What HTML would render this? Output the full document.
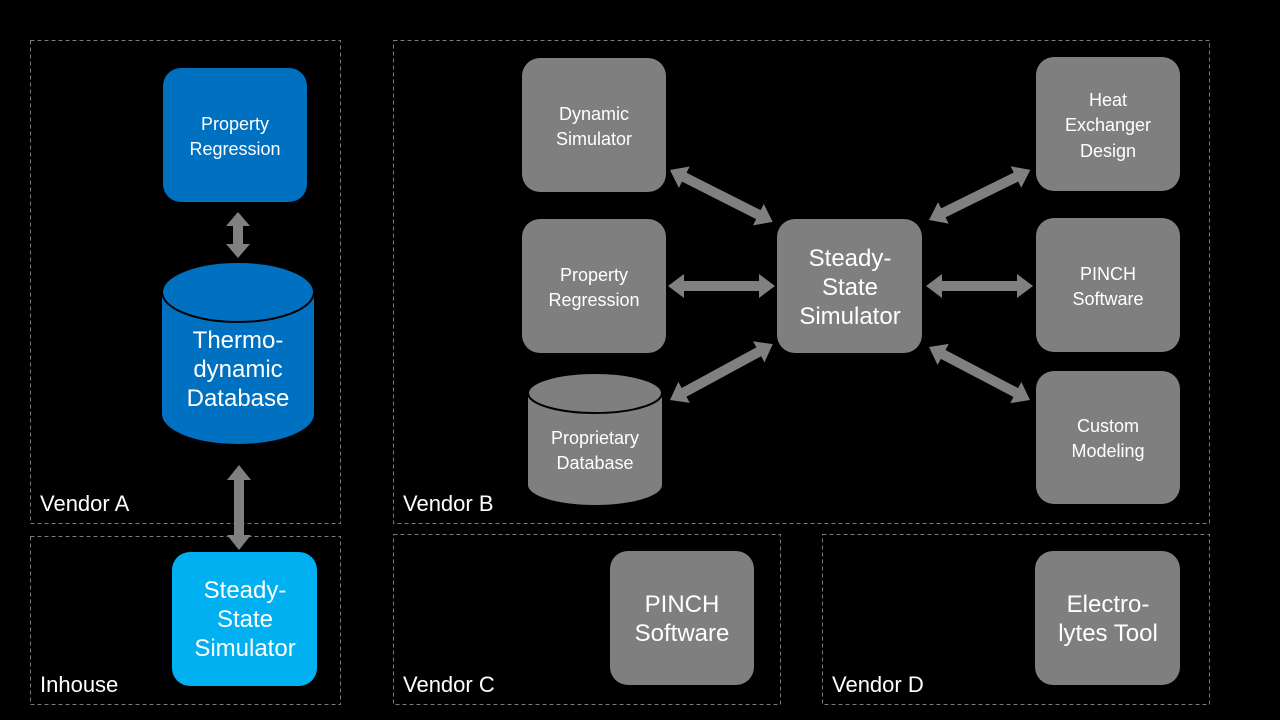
<!DOCTYPE html>
<html><head><meta charset="utf-8"><style>
html,body{margin:0;padding:0;background:#000;}
svg{display:block}
text{font-family:"Liberation Sans",sans-serif;fill:#fff;text-anchor:middle}
.s{font-size:18px}
.l{font-size:24px}
.v{font-size:22px;text-anchor:start}
</style></head><body>
<svg width="1280" height="720" viewBox="0 0 1280 720">
<rect width="1280" height="720" fill="#000"/>
<g fill="none" stroke="#7a7a7a" stroke-width="1" stroke-dasharray="4,3">
<rect x="30.5" y="40.5" width="310" height="483"/>
<rect x="30.5" y="536.5" width="310" height="168"/>
<rect x="393.5" y="40.5" width="816" height="483"/>
<rect x="393.5" y="534.5" width="387" height="170"/>
<rect x="822.5" y="534.5" width="387" height="170"/>
</g>
<text class="v" x="40" y="511">Vendor A</text>
<text class="v" x="40" y="692">Inhouse</text>
<text class="v" x="403" y="511">Vendor B</text>
<text class="v" x="403" y="692">Vendor C</text>
<text class="v" x="832" y="692">Vendor D</text>

<g fill="#808080">
<g transform="translate(238,212) rotate(90)"><polygon points="0,0 14,-12 14,-5 32,-5 32,-12 46,0 32,12 32,5 14,5 14,12"/></g>
<g transform="translate(239,465) rotate(90)"><polygon points="0,0 15,-12 15,-5 70,-5 70,-12 85,0 70,12 70,5 15,5 15,12"/></g>
<g transform="translate(670,170) rotate(26.8)"><polygon points="0,0 16,-12 16,-5 99,-5 99,-12 115,0 99,12 99,5 16,5 16,12"/></g>
<g transform="translate(668,286)"><polygon points="0,0 16,-12 16,-5 91,-5 91,-12 107,0 91,12 91,5 16,5 16,12"/></g>
<g transform="translate(670,400) rotate(-28.5)"><polygon points="0,0 16,-12 16,-5 101,-5 101,-12 117,0 101,12 101,5 16,5 16,12"/></g>
<g transform="translate(929,220) rotate(-26.3)"><polygon points="0,0 16,-12 16,-5 97,-5 97,-12 113,0 97,12 97,5 16,5 16,12"/></g>
<g transform="translate(926,286)"><polygon points="0,0 16,-12 16,-5 91,-5 91,-12 107,0 91,12 91,5 16,5 16,12"/></g>
<g transform="translate(929,347) rotate(27.7)"><polygon points="0,0 16,-12 16,-5 98,-5 98,-12 114,0 98,12 98,5 16,5 16,12"/></g>
</g>

<rect x="163" y="68" width="144" height="134" rx="18" fill="#0070c0"/>
<text class="s" x="235" y="130">Property</text>
<text class="s" x="235" y="155">Regression</text>
<path d="M162,292 L162,414 A76,30 0 0 0 314,414 L314,292 Z" fill="#0070c0"/>
<ellipse cx="238" cy="292" rx="76" ry="30" fill="#0070c0" stroke="#000" stroke-width="2"/>
<text class="l" x="238" y="348">Thermo-</text>
<text class="l" x="238" y="377">dynamic</text>
<text class="l" x="238" y="406">Database</text>

<rect x="172" y="552" width="145" height="134" rx="18" fill="#00b0f0"/>
<text class="l" x="245" y="598">Steady-</text>
<text class="l" x="245" y="627">State</text>
<text class="l" x="245" y="656">Simulator</text>

<g fill="#7f7f7f">
<rect x="522" y="58" width="144" height="134" rx="18"/>
<rect x="522" y="219" width="144" height="134" rx="18"/>
<rect x="777" y="219" width="145" height="134" rx="18"/>
<rect x="1036" y="57" width="144" height="134" rx="18"/>
<rect x="1036" y="218" width="144" height="134" rx="18"/>
<rect x="1036" y="371" width="144" height="133" rx="18"/>
<rect x="610" y="551" width="144" height="134" rx="18"/>
<rect x="1035" y="551" width="145" height="134" rx="18"/>
<path d="M528,393 L528,485 A67,20 0 0 0 662,485 L662,393 Z"/>
</g>
<ellipse cx="595" cy="393" rx="67" ry="20" fill="#7f7f7f" stroke="#000" stroke-width="2"/>

<text class="s" x="594" y="120">Dynamic</text>
<text class="s" x="594" y="145">Simulator</text>
<text class="s" x="594" y="281">Property</text>
<text class="s" x="594" y="306">Regression</text>
<text class="s" x="595" y="444">Proprietary</text>
<text class="s" x="595" y="469">Database</text>
<text class="l" x="850" y="266">Steady-</text>
<text class="l" x="850" y="295">State</text>
<text class="l" x="850" y="324">Simulator</text>
<text class="s" x="1108" y="106">Heat</text>
<text class="s" x="1108" y="131">Exchanger</text>
<text class="s" x="1108" y="157">Design</text>
<text class="s" x="1108" y="280">PINCH</text>
<text class="s" x="1108" y="305">Software</text>
<text class="s" x="1108" y="432">Custom</text>
<text class="s" x="1108" y="457">Modeling</text>
<text class="l" x="682" y="612">PINCH</text>
<text class="l" x="682" y="641">Software</text>
<text class="l" x="1108" y="612">Electro-</text>
<text class="l" x="1108" y="641">lytes Tool</text>
</svg>
</body></html>
